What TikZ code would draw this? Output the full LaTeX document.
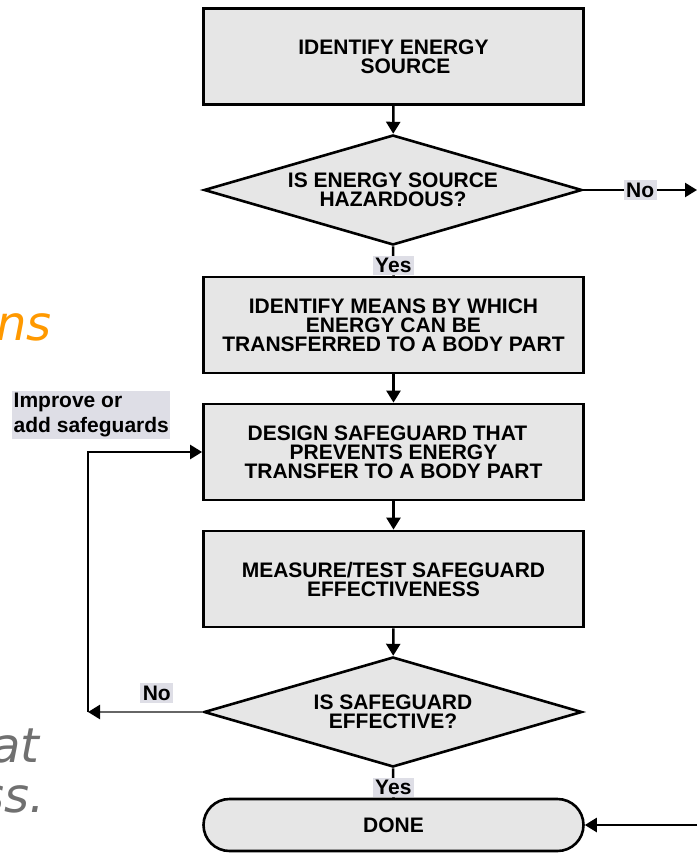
\documentclass[tikz,border=0pt]{standalone}
\usepackage{fontspec}
\usepackage{tikz}
\usetikzlibrary{arrows.meta,shapes.geometric}
\newfontfamily\chartfamily{Liberation Sans}
\newfontfamily\slidefamily{DejaVu Sans}
\newcommand{\chartfont}{\chartfamily\bfseries\fontsize{21}{19}\selectfont}
\newcommand{\notefont}{\chartfamily\bfseries\fontsize{21}{25}\selectfont}
\newcommand{\slidefont}{\slidefamily\itshape\fontsize{48}{50}\selectfont}
\definecolor{boxgray}{RGB}{230,230,230}
\definecolor{taggray}{RGB}{222,222,230}
\definecolor{slideorange}{RGB}{255,153,0}
\definecolor{slidegray}{RGB}{112,112,112}

\begin{document}
\begin{tikzpicture}[x=1pt,y=-1pt,
  process/.style={draw,line width=2.8pt,fill=boxgray,minimum width=380pt,minimum height=96pt,inner sep=0pt,align=center,font=\chartfont},
  decision/.style={diamond,aspect=3.4,draw,line width=2.6pt,fill=boxgray,minimum width=378pt,minimum height=110pt,inner sep=0pt,align=center,font=\chartfont},
  terminal/.style={rectangle,rounded corners=26pt,draw,line width=2.6pt,fill=boxgray,minimum width=380pt,minimum height=52pt,inner sep=0pt,font=\chartfont},
  flow/.style={line width=2.5pt,-{Triangle[length=12pt,width=14pt]}},
  answer/.style={fill=taggray,inner sep=2.5pt,font=\chartfont}]
\clip (0,0) rectangle (697,853);

% leftovers of the slide text
\node[font=\slidefont,text=slideorange,anchor=base east,inner sep=0pt] (slideA) at (52,340) {ns};
\node[font=\slidefont,text=slidegray,anchor=base east,inner sep=0pt] (slideB) at (40,762) {at};
\node[font=\slidefont,text=slidegray,anchor=base east,inner sep=0pt] (slideC) at (45,812) {ss.};

\node[process] (identify) at (393.5,56.5) {IDENTIFY ENERGY\\\hspace*{24pt}SOURCE};
\node[decision] (hazard) at (393,190) {IS ENERGY SOURCE\\HAZARDOUS?};
\node[process] (means) at (393.5,325) {IDENTIFY MEANS BY WHICH\\ENERGY CAN BE\\TRANSFERRED TO A BODY PART};
\node[process] (design) at (393.5,452) {DESIGN SAFEGUARD THAT\hspace*{12pt}\\PREVENTS ENERGY\hspace*{42pt}\\TRANSFER TO A BODY PART};
\node[process] (measure) at (393.5,579) {MEASURE/TEST SAFEGUARD\\EFFECTIVENESS};
\node[decision] (effective) at (393,712) {IS SAFEGUARD\\EFFECTIVE?};
\node[terminal] (done) at (393.5,825) {DONE};

\coordinate (hazardNo) at (697,190);
\coordinate (loopfoot) at (88,712);
\coordinate (doneIn) at (697,825);

\draw[flow] (identify) -- (hazard);
\draw[flow] (hazard.east) -- (hazardNo) node[answer,midway] (noHazard) {No};
\draw[line width=2.5pt] (hazard.south) -- (means.north) node[answer,pos=0.65] (yesHazard) {Yes};
\draw[flow] (means) -- (design);
\draw[flow] (design) -- (measure);
\draw[flow] (measure) -- (effective);
\draw[flow,draw=black!60,-{Triangle[length=12pt,width=14pt,color=black]}] (effective.west) -- (loopfoot)
    node[answer,pos=0.4,above=8pt] (noEffective) {No};
\draw[flow] (loopfoot) |- (design.west);
\draw[line width=2.5pt] (effective.south) -- (done.north) node[answer,pos=0.65] (yesEffective) {Yes};
\draw[flow] (doneIn) -- (done.east);

\node[answer,font=\notefont,align=left,anchor=north west,inner xsep=1.5pt,inner ysep=2pt] (improve) at (12,391) {Improve or\\add safeguards};
\end{tikzpicture}
\end{document}
